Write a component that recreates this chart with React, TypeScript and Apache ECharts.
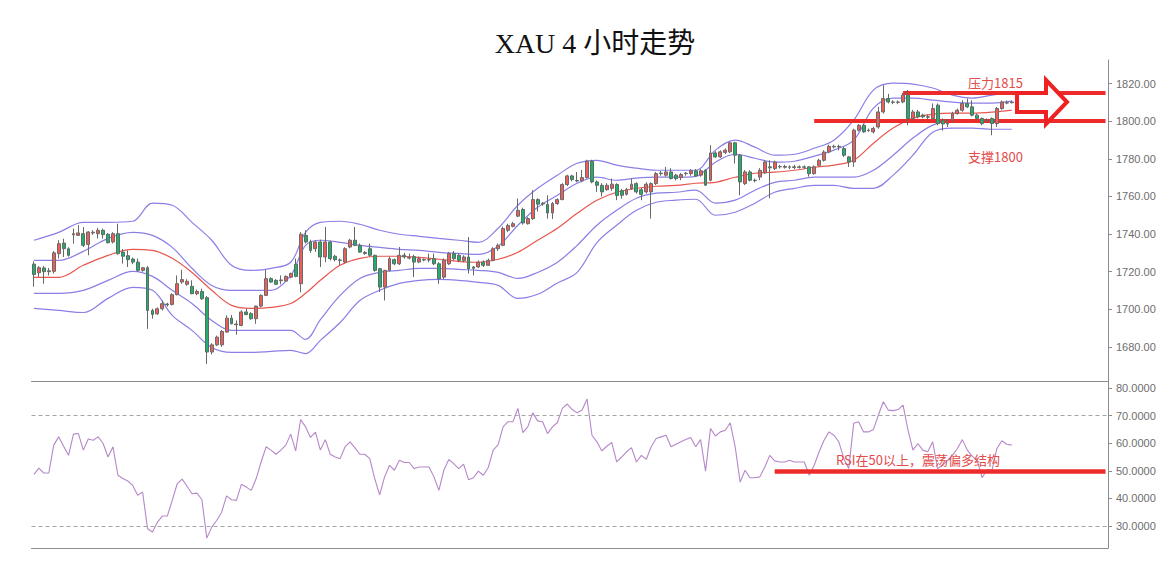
import React, { useEffect, useRef } from "react";
import * as echarts from "echarts";

const SLOT_COUNT = 218;
const categories = Array.from({ length: SLOT_COUNT }, (_, i) => String(i));

const opens = [
  1724,1719.4,1722,1720,1720.2,1729.6,1735.2,1732.2,1739.6,1739.3,
  1740.2,1734.5,1740.6,1740.2,1742,1739.9,1735.8,1740.2,1730.4,1728.5,
  1726.7,1725.1,1720.7,1722.1,1699.4,1697.6,1700.3,1702.8,1702.6,1707.8,
  1714.5,1713.3,1712.2,1708.3,1709.5,1706.2,1677.3,1681.1,1681.1,1687.9,
  1695.3,1691.8,1691.4,1698.6,1697.7,1695,1701.7,1707.4,1716.3,1715.4,
  1715.2,1715,1717.1,1723.9,1713.6,1739.3,1735.8,1732.2,1735.8,1727.8,
  1735.8,1728.2,1726.2,1725.1,1733.1,1736.7,1734,1730.2,1732.2,1728.7,
  1721.6,1711.8,1720.7,1726.4,1724.2,1728.7,1727.2,1728,1725.1,1726.4,
  1726.2,1726.9,1724.2,1717.1,1724.2,1729.6,1728.7,1726,1727.8,1722.5,
  1722.5,1725.1,1723.4,1726,1732.2,1734,1742,1744.1,1749.5,1753,
  1745.5,1748.2,1758.3,1756.4,1755.7,1751.2,1756.2,1758.3,1766.3,1770.9,
  1768.5,1768.3,1770,1778.7,1767.7,1765.9,1763.6,1764.3,1766.3,1763,
  1761.1,1764.2,1766.8,1763.6,1762.4,1762.4,1766.8,1772.1,1771.3,1773,
  1771.3,1770,1772.1,1772.1,1773.6,1771.3,1773.9,1768.6,1783.1,1781,
  1783.4,1783.7,1788.5,1781.9,1766.8,1773,1768.6,1770.3,1772.5,1775.7,
  1774.8,1775.7,1775.9,1775.5,1775.7,1775.4,1775.7,1775.7,1772.1,1776.5,
  1779.2,1783.6,1786.3,1786.6,1785.4,1781,1778.3,1795.2,1797.8,1795.2,
  1794.3,1796.9,1804.9,1812,1810.2,1810,1810.2,1813.8,1801.4,1804.9,
  1803.2,1802.3,1801.4,1808.5,1800.5,1798.7,1800.5,1804,1805.8,1809.4,
  1807.6,1803.2,1801.4,1800.5,1801.4,1798.7,1806.7,1809.6,1809.8,
];

const closes = [
  1718.5,1722.1,1720,1720.5,1730,1734.9,1732.2,1728.7,1740.2,1740.6,
  1734,1741.1,1741,1742,1739.7,1735.4,1740.2,1729.6,1728.2,1726.4,
  1725.1,1720.7,1722.1,1699.4,1697.3,1700.3,1703,1702.4,1707.8,1713.6,
  1715.8,1714.9,1708.3,1709.5,1705.6,1677.3,1681.1,1685.2,1688.2,1695.3,
  1692.3,1692.2,1698.6,1697.2,1695,1701.7,1707.4,1716.3,1714.5,1713.3,
  1715.6,1717.5,1719,1717.5,1739.9,1735.8,1731.3,1735.8,1727.8,1735.8,
  1726.9,1726.4,1726,1732.2,1736.7,1734,1730.4,1729.6,1728.7,1720.7,
  1711.8,1720.7,1726.9,1724.2,1728.7,1727.8,1727.6,1725.1,1726.9,1726.2,
  1726.4,1724.2,1716.3,1726,1729.6,1726.9,1726,1727.8,1721.6,1721.8,
  1725.1,1723.4,1726,1732.2,1734,1742.9,1744.6,1745.5,1752.6,1745.9,
  1748.2,1758.3,1755.9,1756,1751.2,1756.2,1758.3,1766.3,1770.9,1769,
  1768.2,1770,1778.7,1767.7,1765.9,1762.4,1765.9,1766.5,1760.5,1760.6,
  1763.6,1766.5,1762.4,1761.1,1766.5,1766.8,1772.1,1772.4,1773,1769.5,
  1769.5,1771.6,1772.3,1773.6,1770.9,1773.6,1766,1783.1,1781,1783.7,
  1784.6,1788.5,1781.9,1767.7,1773,1768.6,1768.4,1773.9,1778.3,1775.2,
  1778.3,1775.9,1775.5,1775.7,1775.4,1775.7,1775.5,1772.1,1775.7,1779.2,
  1783.6,1786.6,1786.6,1786.3,1781.9,1778.3,1795.2,1797.8,1794.3,1795,
  1796.1,1804.9,1812,1810.2,1810,1810.2,1813.8,1801.4,1804.9,1802.3,
  1802.3,1802.1,1806.7,1798.7,1798.5,1798.5,1804,1805.8,1809.4,1807.6,
  1803.2,1801.4,1798.7,1800.3,1798.7,1806.7,1810.2,1809.8,1810.2,
];

const lows = [
  1712,1717.2,1713.6,1718,1719,1727,1727.8,1728,1734.9,1739,
  1733.1,1728.7,1739.5,1737.6,1737.6,1735,1735,1729,1724.3,1722.5,
  1724,1719.9,1720,1689.6,1695,1697,1699.4,1701.5,1702,1707.4,
  1713.6,1712.5,1708,1707.5,1705,1671,1676,1680.5,1680,1687.5,
  1692,1686.5,1691,1696.8,1694.5,1692.3,1701,1707,1714,1713,
  1713.3,1714.5,1716.5,1717,1709,1735,1730,1730.5,1722.5,1725,
  1726,1725.5,1723.5,1724.5,1732.5,1733.5,1730,1729,1728,1720,
  1709.2,1704.7,1720,1723.5,1723.5,1727,1726.5,1717.1,1724.5,1725.5,
  1725,1723.5,1713.6,1716,1723.5,1726,1725,1725,1719,1718,
  1722,1722.5,1723,1725.5,1731,1733.5,1741,1743.5,1749,1745,
  1745,1747.5,1752,1755,1748.2,1748,1755.5,1758,1765.5,1768,
  1767.5,1767.5,1769.5,1767,1762.4,1760,1763,1763,1758,1758.8,
  1760.5,1763.5,1761.5,1758,1761.5,1748.2,1766,1771,1770.5,1769,
  1768.5,1768.6,1771,1771,1770.4,1770.5,1765.5,1768,1780.5,1780.5,
  1782.5,1783,1777.5,1760.6,1766,1768,1767.5,1768.6,1772,1759,
  1774,1774.8,1774.8,1774.5,1774.5,1774.8,1774.5,1770.5,1771.5,1776,
  1778.5,1783,1785.5,1784.5,1781,1775.7,1775.7,1794.5,1793.8,1794.3,
  1793.5,1796,1804,1809.4,1809,1809,1809.5,1797.8,1800.5,1801.5,
  1801.5,1801,1800.5,1797.8,1795,1796.9,1799.5,1803.5,1805,1807,
  1802.5,1800.5,1797.8,1799.5,1792.5,1796.9,1806,1809,1809.4,
];

const highs = [
  1725.5,1723,1723,1722,1731,1736.7,1737.5,1733,1742.9,1744.7,
  1743.7,1741.5,1742,1743.3,1742.9,1740.5,1741,1745.5,1732,1731.3,
  1727.5,1727,1722.5,1723,1700.3,1701,1704.7,1703.5,1708.5,1718,
  1721,1716,1715.4,1710.5,1711,1707,1682,1686,1689,1696.8,
  1697,1694.1,1699.5,1700.3,1698.5,1702,1708,1721,1717,1716,
  1718,1718,1719.5,1727,1741,1742,1737,1736.5,1737,1743.8,
  1736.5,1729,1727,1733,1737.5,1743.8,1735,1731,1734.9,1729,
  1722,1721,1728,1727,1733.1,1730,1729.6,1729,1728,1727,
  1729.6,1729.6,1725,1727,1730.5,1731,1729.6,1728.7,1738.4,1723,
  1726,1726,1727,1733,1735,1744,1745.5,1746.5,1758.9,1754,
  1749,1763.3,1759,1757,1760.6,1757,1759,1767,1771.5,1771.5,
  1773,1774,1779.5,1779.5,1768.5,1767,1767,1769.5,1767,1764,
  1764.5,1769.5,1767.5,1764.5,1767.5,1767.5,1773,1773.5,1775.7,1775,
  1772,1772.5,1773,1774.5,1774.5,1774.5,1774.5,1787.2,1784,1784.5,
  1785.5,1789,1789,1782.5,1774,1773.9,1769.5,1775,1779.2,1779.2,
  1779,1776.8,1776.8,1776.5,1776.8,1776.5,1776.5,1776,1776.5,1780,
  1784.5,1787.5,1787.5,1787.5,1786.3,1781.5,1796,1798.5,1798.5,1796.1,
  1797,1807.6,1819.1,1814.5,1811.1,1811,1815,1816.5,1806,1806,
  1804,1803.5,1809.4,1809.4,1801.5,1801,1805,1806.7,1811.1,1812,
  1811.1,1804,1802,1801.5,1802,1807.5,1811,1811,1811,
];

const rsiValues = [
  48.7,51.0,49.2,49.2,59.3,62.3,58.9,55.6,63.3,63.5,
  57.5,61.5,61.1,62.3,59.9,55.0,58.7,48.4,47.2,46.3,
  44.7,41.1,42.3,29.0,27.8,31.4,33.6,33.6,39.3,45.3,
  47.0,44.4,41.7,41.9,39.6,25.6,29.6,32.0,35.0,40.9,
  39.5,39.3,45.1,44.1,42.9,47.2,53.2,58.7,57.5,56.0,
  57.5,59.3,63.3,57.2,68.6,65.9,62.1,64.0,57.5,61.3,
  56.0,55.0,54.4,58.7,60.5,58.3,56.0,56.0,54.4,47.2,
  41.3,47.8,52.0,50.2,53.8,53.0,53.0,50.8,51.4,51.4,
  51.4,47.8,42.9,50.2,54.1,52.6,50.8,52.4,46.8,47.5,
  49.9,48.4,51.2,57.5,59.5,65.9,67.8,67.8,72.6,63.8,
  65.9,71.0,68.1,67.8,63.5,65.9,67.5,72.6,74.2,72.2,
  71.0,72.0,76.0,62.9,60.5,57.2,58.9,60.3,53.2,55.0,
  56.9,58.4,53.2,55.6,54.2,58.7,61.7,62.3,62.9,58.7,
  59.6,60.5,61.3,62.1,58.7,61.3,49.9,65.3,62.6,64.1,
  64.7,67.4,58.7,45.9,50.2,47.5,47.5,47.8,51.4,55.6,
  53.6,53.2,53.2,53.8,53.2,53.2,53.2,48.4,52.0,56.9,
  61.1,64.1,62.9,60.5,54.4,50.8,67.2,67.8,64.1,64.1,
  65.0,70.2,75.0,72.0,71.8,72.2,73.8,64.7,57.5,59.9,
  57.5,56.9,60.5,50.8,52.0,53.8,55.6,58.1,61.3,57.5,
  55.3,53.8,47.5,50.4,50.2,58.1,60.9,59.6,59.3,
];

// Bollinger band readings, sampled at these candle indices
const bandIndex = [
  0,5,10,15,20,24,28,32,36,40,44,48,52,55,58,62,66,70,74,78,82,86,90,94,98,
  102,106,110,114,118,122,126,130,134,138,142,146,150,154,158,162,166,170,174,178,182,186,190,194,198,
];
const upperOuter = [
  1736.7,1740.9,1746.2,1746.2,1746.8,1756.4,1755.3,1746.2,1736.7,1723.4,
  1720.7,1721.8,1725.0,1740.9,1746.2,1746.8,1745.2,1742.0,1739.9,1738.8,
  1737.7,1736.7,1735.6,1743.1,1755.3,1764.3,1771.3,1777.6,1779.2,1776.6,
  1775.0,1773.9,1773.9,1773.9,1784.6,1789.9,1786.2,1781.9,1782.4,1785.6,
  1789.9,1800.5,1816.5,1820.2,1819.7,1817.6,1813.8,1812.2,1813.8,1815.4,
];
const upperInner = [
  1726.0,1726.0,1730.8,1737.7,1740.9,1739.3,1732.9,1721.8,1712.7,1710.1,
  1710.1,1710.1,1718.0,1734.0,1736.7,1735.6,1734.0,1732.9,1731.9,1731.3,
  1730.3,1729.7,1729.2,1733.5,1744.7,1754.2,1760.6,1767.0,1770.2,1768.6,
  1769.7,1770.2,1770.2,1770.7,1778.2,1782.4,1780.3,1778.2,1778.7,1781.4,
  1784.6,1789.9,1806.9,1812.2,1812.2,1811.2,1810.1,1809.6,1809.6,1810.6,
];
const middleLine = [
  1717.0,1717.0,1723.4,1728.7,1731.9,1731.3,1727.1,1719.6,1710.1,1702.1,
  1700.5,1701.0,1703.1,1708.5,1715.4,1723.4,1727.1,1728.2,1728.2,1727.6,
  1726.6,1725.5,1725.0,1726.6,1730.3,1736.7,1743.1,1751.0,1758.0,1762.2,
  1764.3,1765.4,1765.9,1767.0,1767.5,1770.2,1772.3,1772.9,1773.9,1775.5,
  1776.6,1779.2,1788.3,1796.3,1801.6,1803.7,1804.3,1804.3,1804.8,1805.9,
];
const lowerInner = [
  1708.5,1708.5,1710.1,1715.4,1720.2,1717.5,1710.1,1703.1,1694.1,1688.8,
  1688.8,1688.8,1688.8,1684.0,1694.5,1707.4,1716.4,1719.6,1720.7,1721.8,
  1721.8,1721.2,1720.7,1719.6,1716.4,1719.6,1725.0,1734.0,1744.7,1752.6,
  1759.0,1761.7,1762.2,1763.3,1756.4,1758.0,1763.3,1767.5,1768.6,1770.2,
  1770.2,1770.2,1773.9,1781.9,1791.0,1797.9,1800.0,1800.0,1800.0,1800.5,
];
const lowerOuter = [
  1700.5,1699.4,1698.3,1705.8,1711.7,1710.1,1696.8,1688.8,1679.7,1677.1,
  1677.1,1677.6,1678.2,1676.5,1683.5,1693.0,1704.7,1710.1,1713.8,1715.4,
  1715.9,1715.4,1714.3,1712.7,1705.8,1708.0,1714.0,1719.6,1735.5,1744.7,
  1752.6,1756.9,1758.0,1758.5,1750.0,1751.6,1756.4,1762.2,1764.3,1765.9,
  1765.9,1764.3,1764.3,1771.3,1781.9,1794.1,1796.3,1796.3,1795.7,1795.7,
];

const priceTicks = [1680, 1700, 1720, 1740, 1760, 1780, 1800, 1820];
const rsiTicks = [30, 40, 50, 60, 70, 80];
const resistanceLevel = 1815;
const supportLevel = 1800;
const rsiLevel = 50;
const rsiUpper = 70;
const rsiLower = 30;
const resistanceStart = "176";
const supportStart = "158";
const rsiLevelStart = "150";
const lastSlot = String(SLOT_COUNT - 1);

const TITLE = "XAU 4 小时走势";
const RES_LABEL = "压力1815";
const SUP_LABEL = "支撑1800";
const RSI_NOTE = "RSI在50以上，震荡偏多结构";

const AXIS_GRAY = "#8c8c8c";
const BAND_COLOR = "#8a7fe6";
const MA_COLOR = "#e8574f";
const ANNOT_RED = "#ee2b2b";
const LABEL_RED = "#e24c4c";

function buildOption() {
  const candleData = opens.map((o, i) => [o, closes[i], lows[i], highs[i]]);
  const band = (vals: number[]) => bandIndex.map((x, k) => [x, vals[k]]);
  const bandSeries = (name: string, vals: number[], color: string) => ({
    name,
    type: "line",
    xAxisIndex: 0,
    yAxisIndex: 0,
    data: band(vals),
    showSymbol: false,
    symbol: "none",
    smooth: 0.35,
    silent: true,
    z: 2,
    lineStyle: { color, width: 1.2 },
  });

  const catAxis = (gridIndex: number) => ({
    type: "category",
    gridIndex,
    data: categories,
    boundaryGap: true,
    axisLine: { show: true, onZero: false, lineStyle: { color: AXIS_GRAY, width: 1 } },
    axisTick: { show: false },
    axisLabel: { show: false },
    splitLine: { show: false },
  });

  return {
    animation: false,
    backgroundColor: "#ffffff",
    grid: [
      { left: 31.5, right: 57, top: 60, height: 321 },
      { left: 31.5, right: 57, top: 381, height: 167 },
    ],
    xAxis: [catAxis(0), catAxis(1)],
    yAxis: [
      {
        type: "value",
        gridIndex: 0,
        position: "right",
        min: 1661.9,
        max: 1832.5,
        axisLine: { show: true, lineStyle: { color: AXIS_GRAY } },
        axisTick: { show: true, length: 4, customValues: priceTicks, lineStyle: { color: AXIS_GRAY } },
        axisLabel: {
          customValues: priceTicks,
          formatter: (v: number) => v.toFixed(2),
          color: "#6e6e6e",
          fontSize: 11,
          fontFamily: "Liberation Sans, Arial, sans-serif",
          margin: 8,
        },
        splitLine: { show: false },
      },
      {
        type: "value",
        gridIndex: 1,
        position: "right",
        min: 22.03,
        max: 82.54,
        axisLine: { show: true, lineStyle: { color: AXIS_GRAY } },
        axisTick: { show: true, length: 4, customValues: rsiTicks, lineStyle: { color: AXIS_GRAY } },
        axisLabel: {
          customValues: rsiTicks,
          formatter: (v: number) => v.toFixed(4),
          color: "#6e6e6e",
          fontSize: 11,
          fontFamily: "Liberation Sans, Arial, sans-serif",
          margin: 8,
        },
        splitLine: { show: false },
      },
    ],
    series: [
      bandSeries("upperOuter", upperOuter, BAND_COLOR),
      bandSeries("upperInner", upperInner, BAND_COLOR),
      bandSeries("middle", middleLine, MA_COLOR),
      bandSeries("lowerInner", lowerInner, BAND_COLOR),
      bandSeries("lowerOuter", lowerOuter, BAND_COLOR),
      {
        name: "XAU",
        type: "candlestick",
        xAxisIndex: 0,
        yAxisIndex: 0,
        data: candleData,
        barWidth: 3.4,
        z: 5,
        silent: true,
        itemStyle: {
          color: "#ee5d57",
          color0: "#1fb06c",
          borderColor: "#6a6a6a",
          borderColor0: "#5f6a64",
          borderWidth: 1,
        },
        markLine: {
          silent: true,
          symbol: ["none", "none"],
          label: { show: false },
          lineStyle: { color: ANNOT_RED, width: 4, type: "solid" },
          data: [
            [{ coord: [resistanceStart, resistanceLevel] }, { coord: [lastSlot, resistanceLevel] }],
            [{ coord: [supportStart, supportLevel] }, { coord: [lastSlot, supportLevel] }],
          ],
        },
      },
      {
        name: "RSI",
        type: "line",
        xAxisIndex: 1,
        yAxisIndex: 1,
        data: rsiValues,
        showSymbol: false,
        symbol: "none",
        silent: true,
        lineStyle: { color: "#b687c9", width: 1.1 },
        markLine: {
          silent: true,
          symbol: ["none", "none"],
          label: { show: false },
          data: [
            { yAxis: rsiUpper, lineStyle: { type: [4, 3], color: "#a5a5a5", width: 1 } },
            { yAxis: rsiLower, lineStyle: { type: [4, 3], color: "#a5a5a5", width: 1 } },
            [
              { coord: [rsiLevelStart, rsiLevel], lineStyle: { type: "solid", color: ANNOT_RED, width: 4.5 } },
              { coord: [lastSlot, rsiLevel] },
            ],
          ],
        },
      },
    ],
    graphic: [
      {
        type: "text",
        x: 595,
        y: 43,
        z: 100,
        style: {
          text: TITLE,
          fill: "#111111",
          font: '28px "Liberation Serif", "Noto Sans CJK SC", serif',
          textAlign: "center",
          textVerticalAlign: "middle",
        },
      },
      {
        type: "text",
        x: 968,
        y: 82,
        z: 100,
        style: {
          text: RES_LABEL,
          fill: LABEL_RED,
          font: '13px "Noto Sans CJK SC", sans-serif',
          textAlign: "left",
          textVerticalAlign: "middle",
        },
      },
      {
        type: "text",
        x: 968,
        y: 156,
        z: 100,
        style: {
          text: SUP_LABEL,
          fill: LABEL_RED,
          font: '13px "Noto Sans CJK SC", sans-serif',
          textAlign: "left",
          textVerticalAlign: "middle",
        },
      },
      {
        type: "text",
        x: 836,
        y: 459,
        z: 100,
        style: {
          text: RSI_NOTE,
          fill: LABEL_RED,
          font: '13px "Noto Sans CJK SC", sans-serif',
          textAlign: "left",
          textVerticalAlign: "middle",
        },
      },
      {
        type: "polygon",
        z: 100,
        shape: {
          points: [
            [1017, 93], [1046, 93], [1046, 80], [1067, 102],
            [1046, 124], [1046, 112], [1017, 112],
          ],
        },
        style: { fill: "#ffffff", stroke: "#ee2222", lineWidth: 4, lineJoin: "miter" },
      },
    ],
  };
}

export default function App() {
  const ref = useRef<HTMLDivElement>(null);
  useEffect(() => {
    if (!ref.current) return;
    const chart = echarts.init(ref.current, null, { renderer: "svg" });
    chart.setOption(buildOption() as any);
    return () => {
      chart.dispose();
    };
  }, []);
  return (
    <div
      ref={ref}
      style={{ position: "fixed", left: 0, top: 0, width: 1165, height: 563, background: "#fff" }}
    />
  );
}
